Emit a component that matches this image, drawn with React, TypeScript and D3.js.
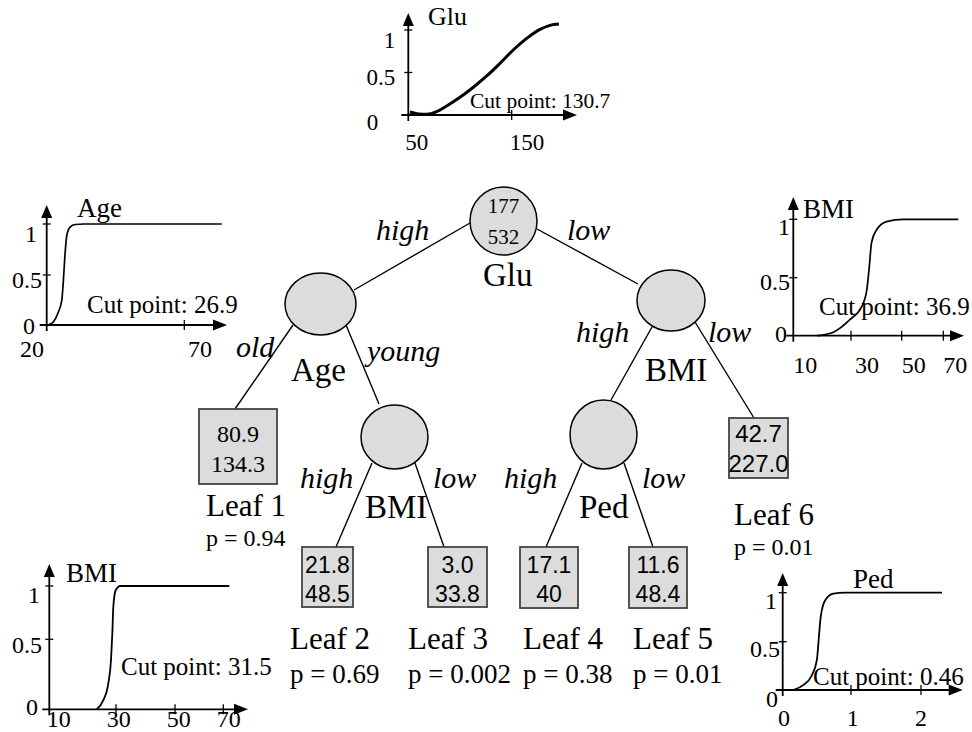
import React from "react";
import * as d3 from "d3";

// ---- tree values ----
const rootCounts = ["177", "532"];
const splitVars = ["Glu", "Age", "BMI", "BMI", "Ped"];
const branchLabels = [
  ["high", "low"],
  ["old", "young"],
  ["high", "low"],
  ["high", "low"],
  ["high", "low"],
];
const leafNames = ["Leaf 1", "Leaf 2", "Leaf 3", "Leaf 4", "Leaf 5", "Leaf 6"];
const leafTop = ["80.9", "21.8", "3.0", "17.1", "11.6", "42.7"];
const leafBottom = ["134.3", "48.5", "33.8", "40", "48.4", "227.0"];
const leafP = ["0.94", "0.69", "0.002", "0.38", "0.01", "0.01"];

// ---- membership curves ----
const yTicks = [0, 0.5, 1];

const gluTicks = [50, 150];
const gluCut = "130.7";
const gluX = [51.6, 59.7, 67.8, 77.5, 87.1, 100, 112.9, 125.8, 138.7, 151.5, 164.5, 177.4, 187, 195.7];
const gluY = [0.035, 0.012, 0.008, 0.039, 0.106, 0.208, 0.326, 0.459, 0.608, 0.765, 0.902, 1.008, 1.055, 1.07];

const ageTicks = [20, 70];
const ageCut = "26.9";
const ageX = [20.5, 22.4, 24.1, 25.5, 26.0, 26.6, 27.3, 28.5, 30.3, 33.6, 83.6];
const ageY = [0, 0.03, 0.12, 0.25, 0.42, 0.68, 0.89, 0.97, 0.995, 1, 1];

const bmiTicks = [10, 30, 50, 70];

const bmiHighCut = "36.9";
const bmiHighX = [18.3, 23.9, 29.7, 34.2, 36.2, 37.2, 38.1, 40.1, 44.0, 50.8, 77.2];
const bmiHighY = [0, 0.03, 0.14, 0.25, 0.39, 0.59, 0.8, 0.91, 0.98, 1, 1];

const bmiLowCut = "31.5";
const bmiLowX = [24.2, 26.2, 27.7, 28.5, 28.9, 29.2, 29.9, 31.4, 72.5];
const bmiLowY = [0, 0.066, 0.186, 0.35, 0.556, 0.806, 0.96, 1, 1];

const pedTicks = [0, 1, 2];
const pedCut = "0.46";
const pedX = [0.155, 0.3, 0.425, 0.5, 0.53, 0.556, 0.62, 0.74, 0.91, 2.3];
const pedY = [0, 0.05, 0.15, 0.31, 0.55, 0.75, 0.92, 0.99, 1, 1];

// ---- layout ----
const W = 972;
const H = 732;
const SERIF = '"Liberation Serif", "Times New Roman", Times, serif';
const SANS = '"Liberation Sans", Arial, Helvetica, sans-serif';

const nodeLayout = [
  { cx: 503.5, cy: 221, rx: 33.5, ry: 34, lx: 483, ly: 286 },
  { cx: 320.5, cy: 304, rx: 35.5, ry: 31, lx: 291, ly: 381 },
  { cx: 671, cy: 300.5, rx: 34, ry: 30.5, lx: 645, ly: 381 },
  { cx: 394.5, cy: 437, rx: 33.5, ry: 32, lx: 365, ly: 518 },
  { cx: 603.5, cy: 434.5, rx: 33.5, ry: 34.5, lx: 579, ly: 518 },
];
const branchPos = [
  [[376, 240], [567, 240]],
  [[236, 357], [367, 361]],
  [[576, 342], [708, 342]],
  [[300, 488], [433, 488]],
  [[504, 488], [642, 488]],
];
const edgeLayout = [
  [470, 223, 354, 290],
  [537, 229, 638, 284],
  [293, 325, 235, 409],
  [346, 325, 379, 404],
  [652, 327, 611, 400],
  [695, 322, 754, 418],
  [372, 463, 336, 547],
  [415, 463, 444, 547],
  [582, 463, 546, 547],
  [624, 463, 653, 547],
];
const leafLayout = [
  { x: 199, y: 409, w: 78, h: 75, font: SERIF, fs: 24, b1: 442, b2: 472, nx: 206, ny: 516, py: 546, pfs: 24 },
  { x: 302, y: 547, w: 51, h: 60, font: SANS, fs: 23, b1: 573, b2: 602, nx: 290, ny: 649, py: 683, pfs: 27 },
  { x: 428, y: 547, w: 59, h: 60, font: SANS, fs: 23, b1: 573, b2: 602, nx: 408, ny: 649, py: 683, pfs: 27 },
  { x: 520, y: 547, w: 58, h: 61, font: SANS, fs: 23, b1: 573, b2: 602, nx: 523, ny: 649, py: 683, pfs: 27 },
  { x: 629, y: 547, w: 58, h: 61, font: SANS, fs: 23, b1: 573, b2: 602, nx: 633, ny: 649, py: 683, pfs: 27 },
  { x: 729, y: 418, w: 59, h: 60, font: SANS, fs: 24, b1: 442, b2: 472, nx: 734, ny: 525, py: 555, pfs: 24 },
];

const charts = [
  {
    title: "Glu", cut: gluCut, xs: gluX, ys: gluY, ticks: gluTicks,
    ox: 408.3, oy: 115, xPx: [408.3, 511.7], yPx: [115, 72.5, 30], xEnd: 577, yEnd: 13,
    title_: [428, 25, 26], cut_: [470, 108, 21.5], tfs: 23, lw: 3,
    ydx: [-30, -13, -13], ydy: [15, 12.5, 18], xdx: [-3, -2], xdy: 35,
  },
  {
    title: "Age", cut: ageCut, xs: ageX, ys: ageY, ticks: ageTicks,
    ox: 46.7, oy: 325, xPx: [46.7, 184.3], yPx: [325, 275, 224], xEnd: 227, yEnd: 205,
    title_: [77, 217, 27], cut_: [87, 313, 25], tfs: 24, lw: 1.7,
    ydx: [-11.7, -4.7, -9.7], ydy: [9, 13, 18], xdx: [-26.7, 3.7], xdy: 32,
  },
  {
    title: "BMI", cut: bmiHighCut, xs: bmiHighX, ys: bmiHighY, ticks: bmiTicks,
    ox: 793.3, oy: 335.7, xPx: [793.3, 851, 901.7, 943.3], yPx: [335.7, 277.7, 219.3], xEnd: 964, yEnd: 197,
    title_: [803, 218, 27], cut_: [819, 315, 25], tfs: 24, lw: 1.7,
    ydx: [-6.3, -3.3, -3.3], ydy: [6, 12.3, 15.7], xdx: [0, 4, 0, 0], xdy: 37,
  },
  {
    title: "BMI", cut: bmiLowCut, xs: bmiLowX, ys: bmiLowY, ticks: bmiTicks,
    ox: 49.3, oy: 709.3, xPx: [49.3, 116, 175, 223.3], yPx: [709.3, 639.3, 586], xEnd: 248, yEnd: 564,
    title_: [66, 582, 27], cut_: [121, 675, 25], tfs: 24, lw: 1.8,
    ydx: [-11.3, -7.3, -9.3], ydy: [6, 14, 17], xdx: [-2.6, -9.3, -8.3, -6.6], xdy: 18,
  },
  {
    title: "Ped", cut: pedCut, xs: pedX, ys: pedY, ticks: pedTicks,
    ox: 782.7, oy: 690, xPx: [782.7, 851, 921], yPx: [690, 641.7, 592.7], xEnd: 962.7, yEnd: 573,
    title_: [853, 588, 27], cut_: [813, 685, 25], tfs: 24, lw: 1.8,
    ydx: [-4.7, -2.7, -5.7], ydy: [17, 15, 16], xdx: [-4.7, -4.3, -6], xdy: 36,
  },
];

type Chart = (typeof charts)[number];

function MiniChart({ c }: { c: Chart }) {
  const x = d3.scaleLinear().domain(c.ticks).range(c.xPx);
  const y = d3.scaleLinear().domain(yTicks).range(c.yPx);
  const line = d3
    .line<number>()
    .x((_, i) => x(c.xs[i]))
    .y((d) => y(d))
    .curve(d3.curveMonotoneX);

  const { ox, oy, xEnd, yEnd } = c;
  return (
    <g>
      {/* axes */}
      <line x1={ox} y1={oy + 6} x2={ox} y2={yEnd + 10} stroke="#000" strokeWidth={1.8} />
      <line x1={ox - 7} y1={oy} x2={xEnd - 10} y2={oy} stroke="#000" strokeWidth={1.8} />
      <polygon points={`${ox - 5.5},${yEnd + 13} ${ox},${yEnd} ${ox + 5.5},${yEnd + 13}`} fill="#000" />
      <polygon points={`${xEnd - 14},${oy - 5.5} ${xEnd},${oy} ${xEnd - 14},${oy + 5.5}`} fill="#000" />

      {/* y ticks */}
      {yTicks.map((t, i) => (
        <g key={"y" + i}>
          {i > 0 && <line x1={ox - 4} x2={ox + 4} y1={y(t)} y2={y(t)} stroke="#000" strokeWidth={1.3} />}
          <text
            x={ox + c.ydx[i]}
            y={y(t) + c.ydy[i]}
            textAnchor="end"
            fontFamily={SERIF}
            fontSize={c.tfs}
          >
            {t}
          </text>
        </g>
      ))}

      {/* x ticks */}
      {c.ticks.map((t, i) => (
        <g key={"x" + i}>
          {i > 0 && <line x1={x(t)} x2={x(t)} y1={oy - 5} y2={oy + 5} stroke="#000" strokeWidth={1.3} />}
          <text x={x(t) + c.xdx[i]} y={oy + c.xdy} fontFamily={SERIF} fontSize={c.tfs}>
            {t}
          </text>
        </g>
      ))}

      <path d={line(c.ys) || ""} fill="none" stroke="#000" strokeWidth={c.lw} />

      <text x={c.title_[0]} y={c.title_[1]} fontFamily={SERIF} fontSize={c.title_[2]}>
        {c.title}
      </text>
      <text x={c.cut_[0]} y={c.cut_[1]} fontFamily={SERIF} fontSize={c.cut_[2]}>
        {"Cut point: " + c.cut}
      </text>
    </g>
  );
}

export default function App() {
  return (
    <svg
      width={W}
      height={H}
      viewBox={`0 0 ${W} ${H}`}
      style={{ position: "absolute", left: 0, top: 0, background: "#fff" }}
    >
      <rect width={W} height={H} fill="#fff" />

      {/* edges */}
      {edgeLayout.map((e, i) => (
        <line key={"e" + i} x1={e[0]} y1={e[1]} x2={e[2]} y2={e[3]} stroke="#000" strokeWidth={1.4} />
      ))}

      {/* split nodes */}
      {nodeLayout.map((n, i) => (
        <g key={"n" + i}>
          <ellipse cx={n.cx} cy={n.cy} rx={n.rx} ry={n.ry} fill="#dcdcdc" stroke="#000" strokeWidth={1.5} />
          <text x={n.lx} y={n.ly} fontFamily={SERIF} fontSize={33}>
            {splitVars[i]}
          </text>
          {branchLabels[i].map((b, j) => (
            <text
              key={j}
              x={branchPos[i][j][0]}
              y={branchPos[i][j][1]}
              fontFamily={SERIF}
              fontStyle="italic"
              fontSize={30}
            >
              {b}
            </text>
          ))}
        </g>
      ))}
      {rootCounts.map((v, i) => (
        <text
          key={"rc" + i}
          x={nodeLayout[0].cx}
          y={213 + i * 31}
          textAnchor="middle"
          fontFamily={SERIF}
          fontSize={21}
        >
          {v}
        </text>
      ))}

      {/* leaves */}
      {leafLayout.map((l, i) => (
        <g key={"l" + i}>
          <rect x={l.x} y={l.y} width={l.w} height={l.h} fill="#dcdcdc" stroke="#444" strokeWidth={1.8} />
          <text x={l.x + l.w / 2} y={l.b1} textAnchor="middle" fontFamily={l.font} fontSize={l.fs}>
            {leafTop[i]}
          </text>
          <text x={l.x + l.w / 2} y={l.b2} textAnchor="middle" fontFamily={l.font} fontSize={l.fs}>
            {leafBottom[i]}
          </text>
          <text x={l.nx} y={l.ny} fontFamily={SERIF} fontSize={31}>
            {leafNames[i]}
          </text>
          <text x={l.nx} y={l.py} fontFamily={SERIF} fontSize={l.pfs}>
            {"p = " + leafP[i]}
          </text>
        </g>
      ))}

      {/* membership functions */}
      {charts.map((c, i) => (
        <MiniChart key={"c" + i} c={c} />
      ))}
    </svg>
  );
}
